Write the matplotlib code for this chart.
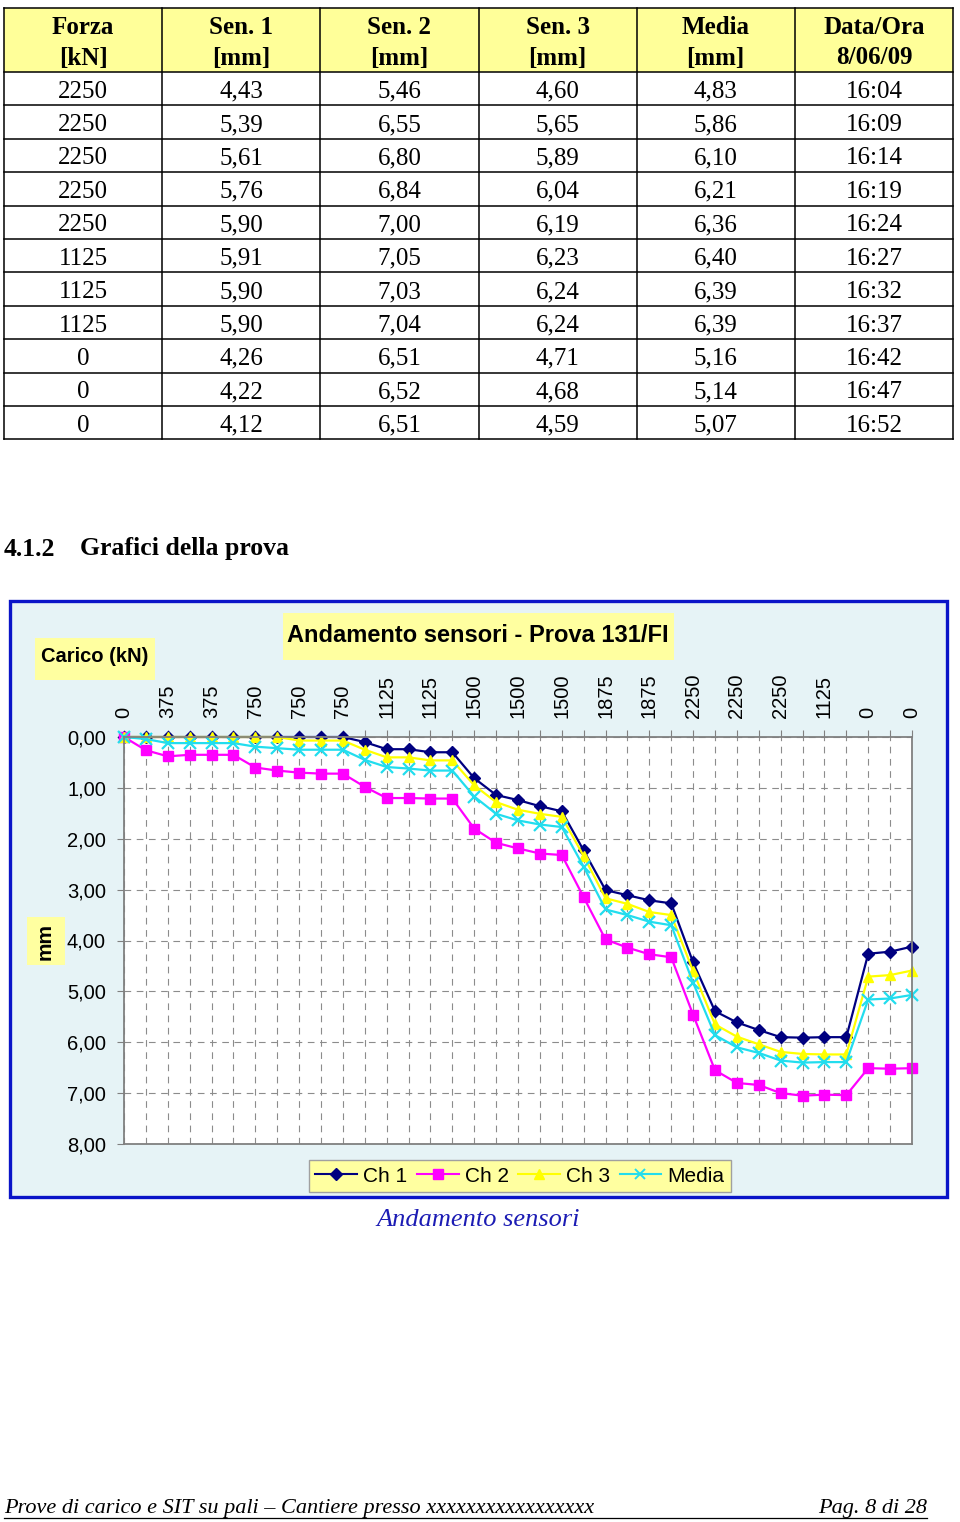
import matplotlib
matplotlib.use("Agg")
import matplotlib.pyplot as plt
from matplotlib.patches import Rectangle
from matplotlib.lines import Line2D

# table data (last load steps)
headers = [("Forza", "[kN]"), ("Sen. 1", "[mm]"), ("Sen. 2", "[mm]"),
           ("Sen. 3", "[mm]"), ("Media", "[mm]"), ("Data/Ora", "8/06/09")]
forza = [2250, 2250, 2250, 2250, 2250, 1125, 1125, 1125, 0, 0, 0]
sen1 = [4.43, 5.39, 5.61, 5.76, 5.90, 5.91, 5.90, 5.90, 4.26, 4.22, 4.12]
sen2 = [5.46, 6.55, 6.80, 6.84, 7.00, 7.05, 7.03, 7.04, 6.51, 6.52, 6.51]
sen3 = [4.60, 5.65, 5.89, 6.04, 6.19, 6.23, 6.24, 6.24, 4.71, 4.68, 4.59]
media = [4.83, 5.86, 6.10, 6.21, 6.36, 6.40, 6.39, 6.39, 5.16, 5.14, 5.07]
ora = ["16:04", "16:09", "16:14", "16:19", "16:24", "16:27",
       "16:32", "16:37", "16:42", "16:47", "16:52"]

# chart: load per reading (kN) and earlier readings
carico = [0] + [375] * 5 + [750] * 5 + [1125] * 5 + [1500] * 5 + [1875] * 5 + forza
ch1_early = [0, 0, 0, 0, 0, 0, 0, 0, 0, 0, 0, 0.10, 0.24, 0.24, 0.30, 0.30,
             0.81, 1.14, 1.24, 1.36, 1.46, 2.23, 3.01, 3.11, 3.21, 3.27]
ch2_early = [0, 0.26, 0.38, 0.35, 0.35, 0.35, 0.60, 0.66, 0.70, 0.72, 0.72,
             0.98, 1.20, 1.20, 1.21, 1.21, 1.80, 2.08, 2.19, 2.29, 2.32,
             3.15, 3.98, 4.14, 4.27, 4.33]
ch3_early = [0, 0, 0, 0, 0, 0, 0, 0, 0.07, 0.07, 0.07, 0.25, 0.40, 0.40, 0.46, 0.46,
             0.95, 1.28, 1.43, 1.51, 1.57, 2.34, 3.17, 3.28, 3.44, 3.50]
media_early = [0, 0.04, 0.12, 0.12, 0.12, 0.12, 0.19, 0.22, 0.25, 0.25, 0.25,
               0.45, 0.59, 0.62, 0.66, 0.66, 1.17, 1.51, 1.64, 1.72, 1.77,
               2.55, 3.39, 3.50, 3.63, 3.70]
ch1 = ch1_early + sen1
ch2 = ch2_early + sen2
ch3 = ch3_early + sen3
chm = media_early + media


def fmt(v):
    return f"{v:.2f}".replace(".", ",")


SERIF = "Liberation Serif"
SANS = "Liberation Sans"
W, H = 960, 1522

fig = plt.figure(figsize=(W / 100, H / 100), dpi=100)
page = fig.add_axes([0, 0, 1, 1])
page.set_xlim(0, W)
page.set_ylim(H, 0)
page.axis("off")

# ---- table ----
left, right = 4, 953
top, head_bot, row_h = 8, 72, 33.4
ncol = len(headers)
col_w = (right - left) / ncol
nrow = len(forza)
bottom = head_bot + nrow * row_h
page.add_patch(Rectangle((left, top), right - left, head_bot - top,
                         facecolor="#FFFF99", edgecolor="none"))
for i in range(ncol + 1):
    x = left + i * col_w
    page.plot([x, x], [top, bottom], color="black", lw=1.1)
for y in [top, head_bot] + [head_bot + (r + 1) * row_h for r in range(nrow)]:
    page.plot([left, right], [y, y], color="black", lw=1.1)

for i, (h1, h2) in enumerate(headers):
    cx = left + (i + 0.5) * col_w
    page.text(cx, 28, h1, ha="center", va="center", family=SERIF,
              weight="bold", fontsize=18)
    page.text(cx, 58, h2, ha="center", va="center", family=SERIF,
              weight="bold", fontsize=18)

for r in range(nrow):
    cy = head_bot + (r + 0.5) * row_h + 3
    cells = [str(forza[r]), fmt(sen1[r]), fmt(sen2[r]), fmt(sen3[r]),
             fmt(media[r]), ora[r]]
    for i, s in enumerate(cells):
        page.text(left + (i + 0.5) * col_w, cy, s, ha="center", va="center",
                  family=SERIF, fontsize=18)

# ---- heading ----
page.text(4, 549, "4.1.2", ha="left", va="center", family=SERIF,
          weight="bold", fontsize=18.5)
page.text(80, 549, "Grafici della prova", ha="left", va="center",
          family=SERIF, weight="bold", fontsize=18.5)

# ---- chart frame ----
page.add_patch(Rectangle((10, 601), 937, 596, facecolor="#E6F3F6",
                         edgecolor="#0A14C8", lw=2.4))
page.add_patch(Rectangle((283, 613), 391, 47, facecolor="#FFFFA0",
                         edgecolor="none"))
page.text(478, 636, "Andamento sensori - Prova 131/FI", ha="center",
          va="center", family=SANS, weight="bold", fontsize=17)
page.add_patch(Rectangle((35, 638), 120, 42, facecolor="#FFFFA0",
                         edgecolor="none"))
page.text(95, 657, "Carico (kN)", ha="center", va="center", family=SANS,
          weight="bold", fontsize=14.5)
page.add_patch(Rectangle((27, 917), 38, 48, facecolor="#FFFFA0",
                         edgecolor="none"))
page.text(45, 941, "mm", ha="center", va="center", rotation=90,
          family=SANS, weight="bold", fontsize=15)

# ---- plot ----
px0, px1, py0, py1 = 124, 912, 737, 1144
ax = fig.add_axes([px0 / W, 1 - py1 / H, (px1 - px0) / W, (py1 - py0) / H])
ax.set_facecolor("white")
n = len(carico)
xs = list(range(n))
ax.plot(xs, ch1, color="#000080", marker="D", markersize=6.5, lw=1.6,
        label="Ch 1", clip_on=False)
ax.plot(xs, ch2, color="#FF00FF", marker="s", markersize=7.5, lw=1.6,
        label="Ch 2", clip_on=False)
ax.plot(xs, ch3, color="#FFFF00", marker="^", markersize=7.5, lw=1.6,
        label="Ch 3", clip_on=False)
ax.plot(xs, chm, color="#22DDEE", marker="x", markersize=8, mew=1.6, lw=1.6,
        label="Media", clip_on=False)

ax.set_xlim(0, n - 1)
ax.set_ylim(8, 0)
ax.set_yticks(range(9))
ax.set_yticklabels([fmt(v) for v in range(9)], family=SANS, fontsize=14.5)
ax.xaxis.tick_top()
ax.set_xticks(xs)
ax.set_xticklabels([str(c) if i % 2 == 0 else "" for i, c in enumerate(carico)],
                   rotation=90, family=SANS, fontsize=14.5)
ax.tick_params(axis="x", direction="out", length=5, pad=9, color="#808080")
ax.tick_params(axis="y", direction="out", length=5, pad=8, color="#808080")
ax.grid(True, color="#8C8C8C", lw=0.8, ls=(0, (6, 5)))
for sp in ax.spines.values():
    sp.set_color("#808080")
    sp.set_linewidth(1.3)

handles = [Line2D([], [], color="#000080", marker="D", markersize=6, lw=1.5),
           Line2D([], [], color="#FF00FF", marker="s", markersize=7, lw=1.5),
           Line2D([], [], color="#FFFF00", marker="^", markersize=7, lw=1.5),
           Line2D([], [], color="#22DDEE", marker="x", markersize=7, mew=1.4, lw=1.5)]
leg = fig.legend(handles, ["Ch 1", "Ch 2", "Ch 3", "Media"], loc="center",
                 bbox_to_anchor=(520 / W, 1 - 1176 / H), ncol=4,
                 prop={"family": SANS, "size": 15}, frameon=True,
                 fancybox=False, facecolor="#FFFFA0", edgecolor="#A0A0A0",
                 handlelength=2.0, handletextpad=0.3, columnspacing=0.45,
                 borderpad=0.3)
leg.get_frame().set_alpha(1)

# ---- caption and footer ----
page.text(478, 1220, "Andamento sensori", ha="center", va="center",
          family=SERIF, style="italic", fontsize=19, color="#1C1CB4")
page.text(4, 1509, "Prove di carico e SIT su pali \u2013 Cantiere presso xxxxxxxxxxxxxxxxx",
          ha="left", va="center", family=SERIF, style="italic", fontsize=16)
page.text(927, 1509, "Pag. 8 di 28", ha="right", va="center", family=SERIF,
          style="italic", fontsize=16)
page.plot([4, 927], [1518, 1518], color="black", lw=0.9)

fig.savefig("out.png", dpi=100)
